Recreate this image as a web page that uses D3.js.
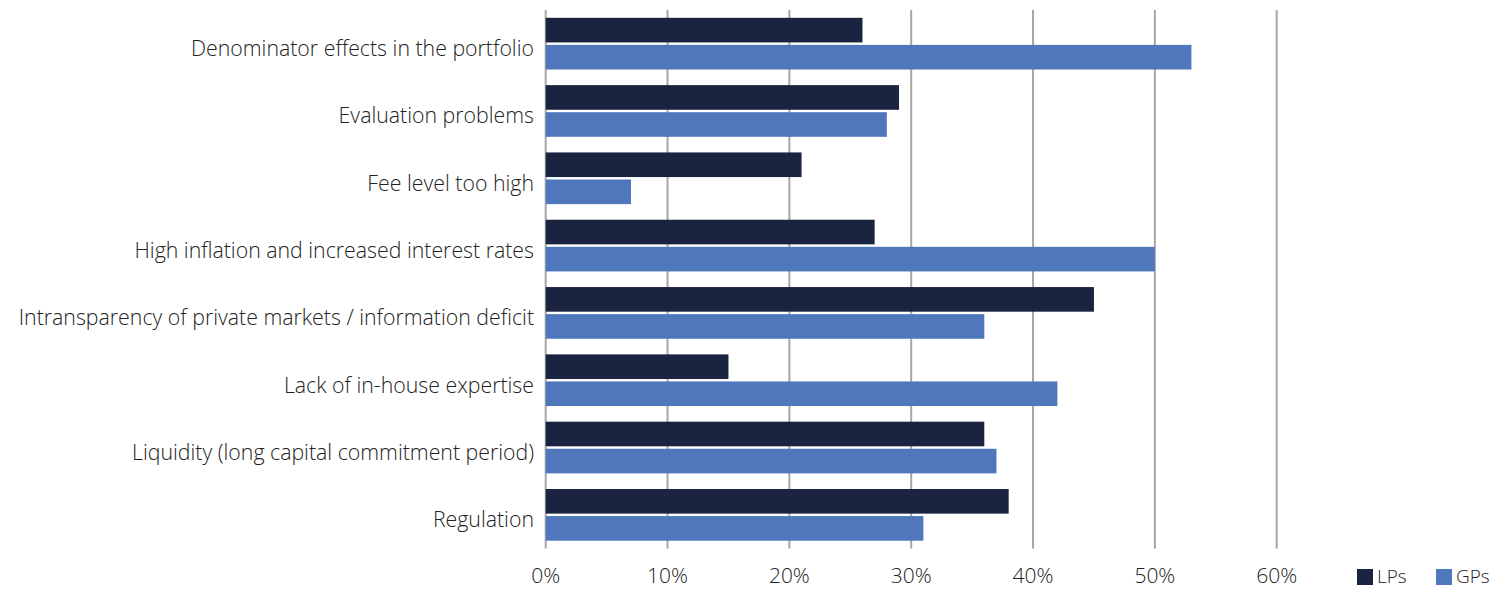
<!DOCTYPE html>
<html>
<head>
<meta charset="utf-8">
<script src="https://cdn.jsdelivr.net/npm/d3@7"></script>
<style>
  html, body { margin: 0; padding: 0; background: #ffffff; }
  svg { display: block; }
  text { font-family: "Open Sans", "Noto Sans", sans-serif; font-weight: 300; fill: #222222; }
</style>
</head>
<body>
<svg id="chart" width="1493" height="589"></svg>
<script>
const categories = [
  "Denominator effects in the portfolio",
  "Evaluation problems",
  "Fee level too high",
  "High inflation and increased interest rates",
  "Intransparency of private markets / information deficit",
  "Lack of in-house expertise",
  "Liquidity (long capital commitment period)",
  "Regulation"
];
const seriesNames = ["LPs", "GPs"];
const lpValues = [26, 29, 21, 27, 45, 15, 36, 38];
const gpValues = [53, 28, 7, 50, 36, 42, 37, 31];
const tickValues = [0, 10, 20, 30, 40, 50, 60];
const colors = ["#1a2340", "#4f78bc"];

const svg = d3.select("#chart");
const x = d3.scaleLinear().domain([0, 60]).range([545.7, 1276.7]);
const y = d3.scaleBand().domain(categories).range([10, 548.5])
  .paddingInner(0.232).paddingOuter(0.116);
const ySub = d3.scaleBand().domain(seriesNames).range([0, y.bandwidth()]).paddingInner(0.09);

const data = categories.map((c, i) => ({ cat: c, values: [
  { s: "LPs", v: lpValues[i] }, { s: "GPs", v: gpValues[i] } ] }));

// gridlines
svg.append("g").selectAll("line").data(tickValues).join("line")
  .attr("x1", d => x(d)).attr("x2", d => x(d))
  .attr("y1", 10).attr("y2", 548.5)
  .attr("stroke", "#a6a6a6").attr("stroke-width", 2);

// bars
const groups = svg.append("g").selectAll("g").data(data).join("g")
  .attr("transform", d => `translate(0,${y(d.cat)})`);
groups.selectAll("rect").data(d => d.values).join("rect")
  .attr("x", x(0))
  .attr("y", d => ySub(d.s))
  .attr("width", d => x(d.v) - x(0))
  .attr("height", ySub.bandwidth())
  .attr("fill", (d, i) => colors[i]);

// category labels
svg.append("g").selectAll("text").data(categories).join("text")
  .attr("x", 534)
  .attr("y", d => y(d) + y.bandwidth() / 2 + 12.3)
  .attr("text-anchor", "end")
  .style("font-size", "21.3px")
  .text(d => d);

// x axis tick labels
svg.append("g").selectAll("text").data(tickValues).join("text")
  .attr("x", d => x(d))
  .attr("y", 582.7)
  .attr("text-anchor", "middle")
  .style("font-size", "21px")
  .text(d => d + "%");

// legend
const legendX = [1357, 1436];
const legend = svg.append("g").selectAll("g").data(seriesNames).join("g")
  .attr("transform", (d, i) => `translate(${legendX[i]},569)`);
legend.append("rect").attr("width", 16).attr("height", 16)
  .attr("fill", (d, i) => colors[i]);
legend.append("text").attr("x", 20).attr("y", 14)
  .style("font-size", "19px")
  .text(d => d);
</script>
</body>
</html>
